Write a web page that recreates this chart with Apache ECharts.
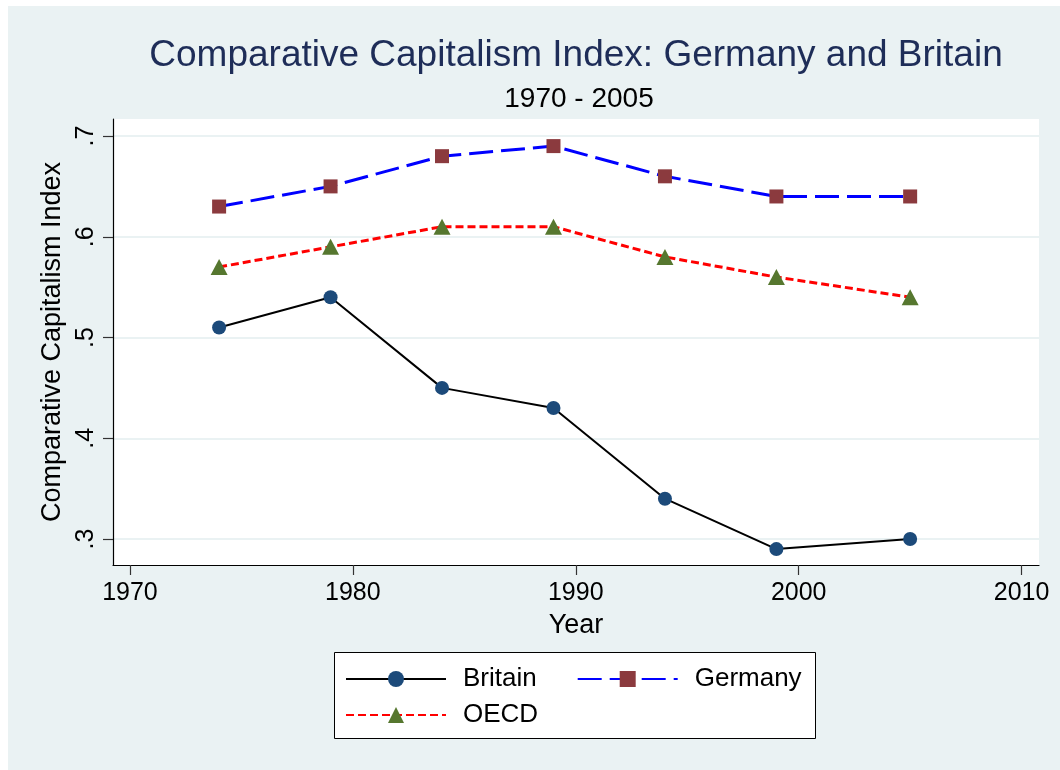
<!DOCTYPE html>
<html>
<head>
<meta charset="utf-8">
<script src="https://cdn.jsdelivr.net/npm/echarts@6/dist/echarts.min.js"></script>
<style>
html,body{margin:0;padding:0;background:#ffffff;}
#chart{position:absolute;left:8px;top:6px;width:1052px;height:764px;}
</style>
</head>
<body>
<div id="chart"></div>
<script>
const years = [1974, 1979, 1984, 1989, 1994, 1999, 2005];
const britain = [0.51, 0.54, 0.45, 0.43, 0.34, 0.29, 0.30];
const germany = [0.63, 0.65, 0.68, 0.69, 0.66, 0.64, 0.64];
const oecd = [0.57, 0.59, 0.61, 0.61, 0.58, 0.56, 0.54];
const yTicks = [0.3, 0.4, 0.5, 0.6, 0.7];
const xTicks = [1970, 1980, 1990, 2000, 2010];
const titleText = 'Comparative Capitalism Index: Germany and Britain';
const subtitleText = '1970 - 2005';
const yName = 'Comparative Capitalism Index';
const xName = 'Year';

const FONT = '"Liberation Sans", Arial, sans-serif';
const pairs = (vals) => years.map((y, i) => [y, vals[i]]);

const chart = echarts.init(document.getElementById('chart'), null, {renderer: 'canvas'});
const option = {
  animation: false,
  backgroundColor: '#eaf2f3',
  textStyle: {fontFamily: FONT},
  grid: {
    left: 105, top: 113, right: 21, bottom: 205,
    show: true, backgroundColor: '#ffffff', borderWidth: 0
  },
  xAxis: {
    type: 'value',
    min: 1969.24, max: 2010.78,
    name: xName,
    nameLocation: 'middle',
    nameGap: 47,
    nameTextStyle: {fontSize: 27, color: '#000', fontFamily: FONT},
    axisLine: {show: true, onZero: false, lineStyle: {color: '#000', width: 1.2}},
    axisTick: {show: true, length: 10, customValues: xTicks, lineStyle: {color: '#333', width: 1.2}},
    axisLabel: {customValues: xTicks, margin: 16, fontSize: 25, color: '#000', fontFamily: FONT,
      formatter: (v) => String(Math.round(v))},
    splitLine: {show: false}
  },
  yAxis: {
    type: 'value',
    min: 0.2742, max: 0.7169,
    name: yName,
    nameLocation: 'middle',
    nameRotate: 90,
    nameGap: 47,
    nameTextStyle: {fontSize: 27, color: '#000', fontFamily: FONT},
    axisLine: {show: true, onZero: false, lineStyle: {color: '#000', width: 1.2}},
    axisTick: {show: true, length: 10, customValues: yTicks, lineStyle: {color: '#333', width: 1.2}},
    axisLabel: {customValues: yTicks, rotate: 90, margin: 14, fontSize: 25, color: '#000', fontFamily: FONT,
      formatter: (v) => v.toFixed(1).replace(/^0/, '')},
    splitLine: {show: true, customValues: yTicks, lineStyle: {color: '#eaf2f3', width: 2}}
  },
  legend: [
    {
      data: ['Britain', 'Germany'],
      left: 337, top: 660,
      itemWidth: 100, itemHeight: 20, itemGap: 40,
      padding: 0,
      textStyle: {fontSize: 26, color: '#000', fontFamily: FONT, padding: [0, 0, 0, 12]}
    },
    {
      data: ['OECD'],
      left: 337, top: 696,
      itemWidth: 100, itemHeight: 20, itemGap: 40,
      padding: 0,
      textStyle: {fontSize: 26, color: '#000', fontFamily: FONT, padding: [0, 0, 0, 12]}
    }
  ],
  graphic: [
    {type: 'rect', shape: {x: 326.5, y: 646.5, width: 481, height: 86},
      style: {fill: '#ffffff', stroke: '#000', lineWidth: 1}, z: -1, silent: true},
    {type: 'text', x: 568, y: 31, style: {text: titleText, fill: '#1e2d58', fontSize: 37,
      fontFamily: FONT, textAlign: 'center', textVerticalAlign: 'top'}},
    {type: 'text', x: 571, y: 79, style: {text: subtitleText, fill: '#000', fontSize: 28,
      fontFamily: FONT, textAlign: 'center', textVerticalAlign: 'top'}}
  ],
  series: [
    {
      name: 'Britain', type: 'line', data: pairs(britain),
      symbol: 'circle', symbolSize: 14,
      itemStyle: {color: '#1c4a7a'},
      lineStyle: {color: '#000', width: 2, type: 'solid'}
    },
    {
      name: 'Germany', type: 'line', data: pairs(germany),
      symbol: 'rect', symbolSize: 14,
      itemStyle: {color: '#8b3a3e'},
      lineStyle: {color: '#0000ff', width: 3, type: [24, 8]}
    },
    {
      name: 'OECD', type: 'line', data: pairs(oecd),
      symbol: 'triangle', symbolSize: [17, 16],
      itemStyle: {color: '#56772f'},
      lineStyle: {color: '#ff0000', width: 3, type: [8, 4]}
    }
  ]
};
chart.setOption(option);
</script>
</body>
</html>
